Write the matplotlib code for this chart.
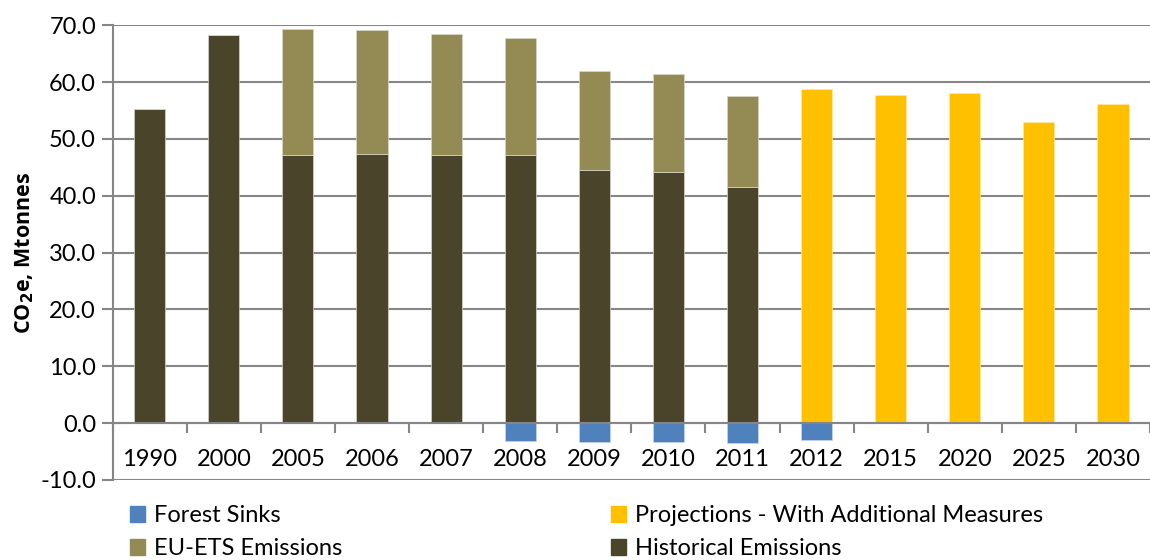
import numpy as np
import matplotlib.pyplot as plt
from matplotlib.patches import Patch


# Figure formatting
font_size = 17
plt.rcParams['font.family'] = ['Lato', 'DejaVu Sans']

# Emissions data, Mt CO2e
years = ['1990', '2000', '2005', '2006', '2007', '2008', '2009',
         '2010', '2011', '2012', '2015', '2020', '2025', '2030']
historical = [55.3, 68.3, 47.1, 47.4, 47.2, 47.2, 44.6, 44.1, 41.6, 0, 0, 0, 0, 0]
eu_ets = [0, 0, 22.3, 21.7, 21.3, 20.5, 17.3, 17.4, 15.9, 0, 0, 0, 0, 0]
forest_sinks = [0, 0, 0, 0, 0, -3.1, -3.3, -3.3, -3.5, -3.0, 0, 0, 0, 0]
projections = [0, 0, 0, 0, 0, 0, 0, 0, 0, 58.8, 57.8, 58.0, 53.0, 56.2]

# Colours
col_forest = '#4F81BD'
col_ets = '#948A54'
col_hist = '#4A452A'
col_proj = '#FFC000'
col_axis = '#868686'

x = np.arange(len(years))
bar_width = 0.42

fig = plt.figure(figsize=(11.5, 5.6), dpi=100)
ax = fig.add_axes([0.098, 0.143, 0.902, 0.812])

# Gridlines behind the bars
ax.set_axisbelow(True)
ax.yaxis.grid(True, color=col_axis, linewidth=1.5)

ax.bar(x, historical, bar_width, color=col_hist, edgecolor='#D8D6C8', linewidth=0.5)
ax.bar(x, eu_ets, bar_width, bottom=historical, color=col_ets,
       edgecolor='#D8D6C8', linewidth=0.5)
ax.bar(x, forest_sinks, bar_width, color=col_forest, edgecolor='#C8D4E8', linewidth=0.5)
ax.bar(x, projections, bar_width, color=col_proj, edgecolor='#FFE8A0', linewidth=0.5)

# Axes limits and ticks
ax.set_xlim(-0.5, len(years) - 0.5)
ax.set_ylim(-10, 70)
ax.set_yticks(np.arange(-10, 71, 10))
ax.set_yticklabels(['%.1f' % v for v in np.arange(-10, 71, 10)])
ax.tick_params(axis='y', length=8, width=1.5, color=col_axis, pad=4, labelsize=font_size)

ax.set_xticks(x)
ax.set_xticklabels(years)
ax.set_xticks(np.arange(-0.5, len(years), 1.0), minor=True)
ax.tick_params(axis='x', which='major', length=0, pad=19, labelsize=font_size)
ax.tick_params(axis='x', which='minor', length=7, width=1.5, color=col_axis)

# Category axis drawn along zero
for side in ['top', 'right']:
    ax.spines[side].set_visible(False)
ax.spines['bottom'].set_position(('data', 0))
ax.spines['bottom'].set_color(col_axis)
ax.spines['bottom'].set_linewidth(1.5)
ax.spines['left'].set_color(col_axis)
ax.spines['left'].set_linewidth(1.5)

ax.set_ylabel(r'CO$_\mathbf{2}$e, Mtonnes', size=15.5, fontweight='bold',
              family=['Open Sans', 'DejaVu Sans'], labelpad=3)

# Legend below the plot
handles = [Patch(color=col_forest, label='Forest Sinks'),
           Patch(color=col_ets, label='EU-ETS Emissions'),
           Patch(color=col_proj, label='Projections - With Additional Measures'),
           Patch(color=col_hist, label='Historical Emissions')]
fig.legend(handles=handles, ncol=2, loc='upper left', bbox_to_anchor=(0.113, 0.098),
           frameon=False, fontsize=font_size, handlelength=0.65, handleheight=0.65,
           handletextpad=0.35, columnspacing=11.4, labelspacing=0.5,
           borderpad=0, borderaxespad=0)

fig.savefig('out.png', dpi=100)
